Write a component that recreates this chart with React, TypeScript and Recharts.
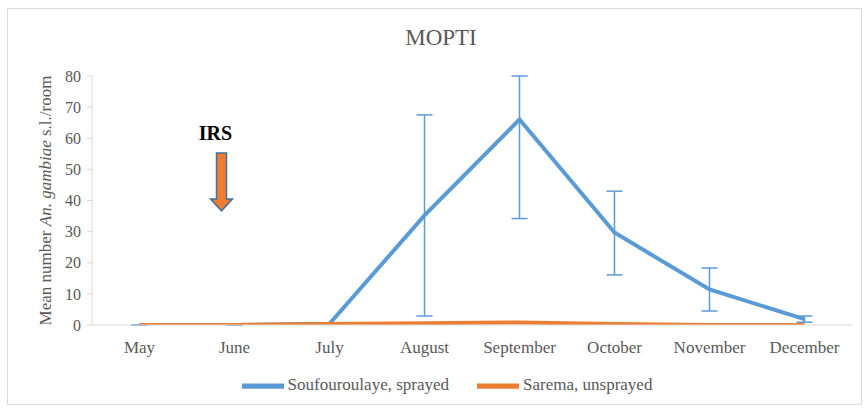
import React from 'react';
import {
  LineChart,
  Line,
  XAxis,
  YAxis,
  Legend,
  ErrorBar,
  ReferenceDot,
} from 'recharts';

// ── Data ──────────────────────────────────────────────────────────────────────

const months = ['May', 'June', 'July', 'August', 'September', 'October', 'November', 'December'];
const sprayed = [0, 0, 0.4, 35.2, 66, 29.7, 11.4, 1.9];
// [minus, plus] error for the sprayed series (Sept upper bar cut by the 80 ceiling)
const sprayedErrLow = [0, 0, 0, 32.3, 31.8, 13.6, 6.9, 1];
const sprayedErrHigh = [0, 0, 0, 32.3, 14, 13.3, 6.9, 1];
const unsprayed = [0, 0, 0.3, 0.6, 0.8, 0.3, 0, 0];
const yTicks = [0, 10, 20, 30, 40, 50, 60, 70, 80];
const seriesOrder = ['Soufouroulaye, sprayed', 'Sarema, unsprayed'];

const data = months.map((m, i) => ({
  month: m,
  sprayed: sprayed[i],
  err: [sprayedErrLow[i], sprayedErrHigh[i]],
  unsprayed: unsprayed[i],
}));

const FONT = '"Liberation Serif", "DejaVu Serif", serif';
const GREY = '#595959';
const BLUE = '#5b9bd5';
const ORANGE = '#ed7d31';

// ── IRS marker ────────────────────────────────────────────────────────────────

function IrsArrow(props: any) {
  const { cx, cy } = props;
  if (cx == null || cy == null) return null;
  const x = cx - 13;
  const top = cy;
  const shaftEnd = top + 46;
  const tip = top + 58;
  const d = `M${x - 5},${top} L${x + 5},${top} L${x + 5},${shaftEnd} L${x + 11},${shaftEnd} L${x},${tip} L${x - 11},${shaftEnd} L${x - 5},${shaftEnd} Z`;
  return (
    <g>
      <text x={x - 6} y={top - 13} textAnchor="middle" fontFamily={FONT} fontWeight="bold" fontSize={20} fill="#000">
        IRS
      </text>
      <path d={d} fill={ORANGE} stroke="#41719c" strokeWidth={1.5} />
    </g>
  );
}

function YLabel(props: any) {
  const vb = props.viewBox || {};
  const cy = (vb.y ?? 76) + (vb.height ?? 249) / 2;
  const cx = 45;
  return (
    <text
      x={cx}
      y={cy}
      transform={`rotate(-90 ${cx} ${cy})`}
      textAnchor="middle"
      dominantBaseline="central"
      fontFamily={FONT}
      fontSize={17}
      fill={GREY}
    >
      Mean number <tspan fontStyle="italic">An. gambiae</tspan> s.l./room
    </text>
  );
}

// ── Component ─────────────────────────────────────────────────────────────────

export default function App() {
  return (
    <div style={{ position: 'absolute', left: 0, top: 0, width: 866, height: 411, background: '#fff' }}>
      <div
        style={{
          position: 'absolute',
          left: 7,
          top: 8,
          width: 853,
          height: 395,
          border: '1px solid #d9d9d9',
        }}
      />
      <div
        style={{
          position: 'absolute',
          left: 0,
          width: 866,
          top: 25,
          textAlign: 'center',
          fontFamily: FONT,
          fontSize: 23,
          color: GREY,
          paddingLeft: 16,
          boxSizing: 'border-box',
        }}
      >
        MOPTI
      </div>
      <div style={{ position: 'absolute', left: 0, top: 0 }}>
        <LineChart
          width={866}
          height={411}
          data={data}
          margin={{ top: 76, right: 14, left: 52, bottom: 30 }}
        >
          <XAxis
            dataKey="month"
            tickLine={false}
            axisLine={{ stroke: '#d9d9d9' }}
            tick={{ fill: GREY, fontSize: 17, fontFamily: FONT }}
            tickMargin={10}
            height={30}
            interval={0}
            padding={{ left: 47.5, right: 47.5 }}
          />
          <YAxis
            domain={[0, 80]}
            ticks={yTicks}
            allowDataOverflow
            width={40}
            tickLine={{ stroke: '#d9d9d9' }}
            axisLine={{ stroke: '#d9d9d9' }}
            tick={{ fill: GREY, fontSize: 16, fontFamily: FONT, dx: -4 }}
            tickSize={5}
            label={{ content: <YLabel /> } as any}
          />
          <Legend
            verticalAlign="bottom"
            height={26}
            iconType="plainline"
            iconSize={42}
            itemSorter={((item: any) => seriesOrder.indexOf(item.value)) as any}
            wrapperStyle={{ fontFamily: FONT, fontSize: 17, color: GREY, top: 365, bottom: 'auto' }}
            formatter={(v: string) => (
              <span style={{ color: GREY, marginRight: v === seriesOrder[0] ? 18 : 0 }}>{v}</span>
            )}
          />
          <Line
            name="Soufouroulaye, sprayed"
            dataKey="sprayed"
            stroke={BLUE}
            strokeWidth={4}
            dot={false}
            activeDot={false}
            isAnimationActive={false}
          >
            <ErrorBar dataKey="err" width={8} strokeWidth={1.5} stroke={BLUE} direction="y" />
          </Line>
          <Line
            name="Sarema, unsprayed"
            dataKey="unsprayed"
            stroke={ORANGE}
            strokeWidth={4}
            dot={false}
            activeDot={false}
            isAnimationActive={false}
          />
          <ReferenceDot x="June" y={55.3} shape={<IrsArrow />} ifOverflow="visible" />
        </LineChart>
      </div>
    </div>
  );
}
